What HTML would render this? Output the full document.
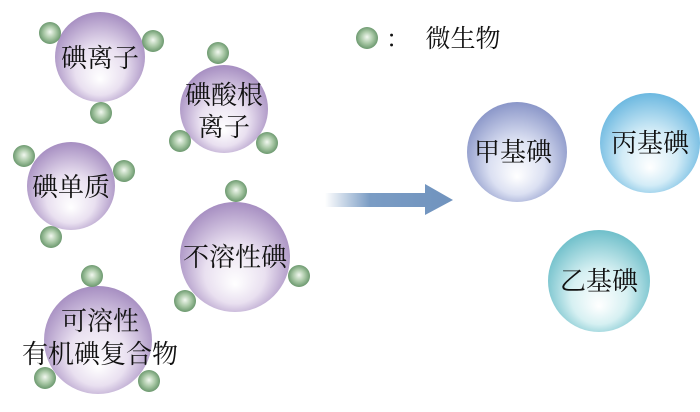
<!DOCTYPE html>
<html><head><meta charset="utf-8"><style>
html,body{margin:0;padding:0;background:#fff;}
text{font-family:"Liberation Serif","Noto Serif CJK SC","Noto Sans CJK SC",serif;fill:#111;text-anchor:middle;}
</style></head><body>
<svg width="700" height="407" viewBox="0 0 700 407" xmlns="http://www.w3.org/2000/svg">
<defs>
<radialGradient id="pu" cx="0.5" cy="0.55" r="0.55" fx="0.5" fy="0.75">
<stop offset="0" stop-color="#ffffff"/><stop offset="0.5" stop-color="#e9e0f0"/><stop offset="1" stop-color="#a68ec1"/></radialGradient>
<radialGradient id="gr" cx="0.5" cy="0.5" r="0.55" fx="0.5" fy="0.45">
<stop offset="0" stop-color="#f2f8f0"/><stop offset="0.5" stop-color="#a9c8a6"/><stop offset="1" stop-color="#5f8f63"/></radialGradient>
<radialGradient id="bl" cx="0.5" cy="0.55" r="0.55" fx="0.5" fy="0.75">
<stop offset="0" stop-color="#ffffff"/><stop offset="0.5" stop-color="#dbe0f2"/><stop offset="1" stop-color="#8a96c8"/></radialGradient>
<radialGradient id="cy" cx="0.5" cy="0.55" r="0.55" fx="0.5" fy="0.75">
<stop offset="0" stop-color="#ffffff"/><stop offset="0.5" stop-color="#d3ecf7"/><stop offset="1" stop-color="#6cb8e0"/></radialGradient>
<radialGradient id="te" cx="0.5" cy="0.55" r="0.55" fx="0.5" fy="0.75">
<stop offset="0" stop-color="#ffffff"/><stop offset="0.5" stop-color="#d6f0f2"/><stop offset="1" stop-color="#6fbfca"/></radialGradient>
<linearGradient id="ar" x1="0" x2="1"><stop offset="0" stop-color="#7a9cc4" stop-opacity="0"/><stop offset="0.35" stop-color="#7a9cc4"/><stop offset="1" stop-color="#7093be"/></linearGradient>
</defs>
<g fill="url(#pu)">
<circle cx="100" cy="57" r="45"/>
<circle cx="224" cy="109" r="44"/>
<circle cx="71" cy="186" r="44"/>
<circle cx="235" cy="257" r="55"/>
<circle cx="98" cy="340" r="54"/>
</g>
<g fill="url(#gr)">
<circle cx="50" cy="33" r="11"/><circle cx="153" cy="41" r="11"/><circle cx="101" cy="113" r="11"/>
<circle cx="218" cy="53" r="11"/><circle cx="180" cy="141" r="11"/><circle cx="267" cy="143" r="11"/>
<circle cx="24" cy="156" r="11"/><circle cx="124" cy="171" r="11"/><circle cx="51" cy="237" r="11"/>
<circle cx="236" cy="191" r="11"/><circle cx="185" cy="301" r="11"/><circle cx="299" cy="276" r="11"/>
<circle cx="92" cy="276" r="11"/><circle cx="45" cy="378" r="11"/><circle cx="149" cy="381" r="11"/>
<circle cx="367" cy="38" r="11"/>
</g>
<text x="398" y="47" font-size="24">：</text>
<text x="463" y="47" font-size="25">微生物</text>
<text x="100" y="67" font-size="26">碘离子</text>
<text x="224" y="104" font-size="26">碘酸根</text>
<text x="224" y="136" font-size="26">离子</text>
<text x="71" y="196" font-size="26">碘单质</text>
<text x="235" y="266" font-size="26">不溶性碘</text>
<text x="100" y="330" font-size="26">可溶性</text>
<text x="100" y="363" font-size="26">有机碘复合物</text>
<path d="M325 193 H425 V184 L453 200 L425 215 V207 H325 Z" fill="url(#ar)"/>
<circle cx="517" cy="152" r="50" fill="url(#bl)"/>
<circle cx="650" cy="143" r="50" fill="url(#cy)"/>
<circle cx="599" cy="281" r="51" fill="url(#te)"/>
<text x="513" y="161" font-size="26">甲基碘</text>
<text x="650" y="152" font-size="26">丙基碘</text>
<text x="599" y="290" font-size="26">乙基碘</text>
</svg>
</body></html>
